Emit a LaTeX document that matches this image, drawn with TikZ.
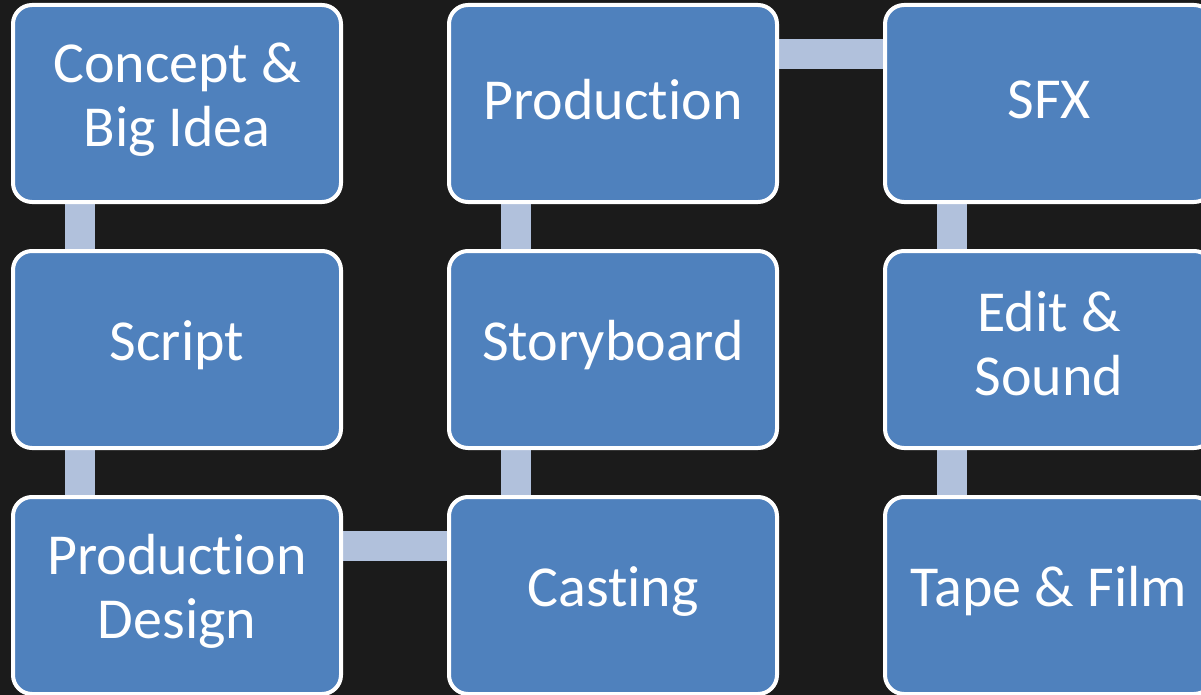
\documentclass[tikz,border=0pt]{standalone}
\usepackage{fontspec}
\setmainfont{Carlito}[Ligatures=NoCommon]
\usetikzlibrary{calc}
\pgfdeclarelayer{bg}
\pgfsetlayers{bg,main}
\definecolor{backdrop}{HTML}{1B1B1B}
\definecolor{boxblue}{HTML}{4F81BD}
\definecolor{linkblue}{HTML}{B1C1DC}

\begin{document}
\begin{tikzpicture}[x=1pt,y=1pt,
    stage/.style={draw=white, line width=4pt, fill=boxblue, rounded corners=19pt,
                  minimum width=328pt, minimum height=197pt, inner sep=0pt},
    caption/.style={text=white, align=center, inner sep=0pt, yshift=4pt,
                  font=\fontsize{58}{64}\selectfont},
    link/.style={draw=linkblue, line width=30pt}]
	\useasboundingbox (0,0) rectangle (1201,-695);
	\clip (0,0) rectangle (1201,-695);

	% column 1
	\node[stage, label={[caption]center:{Concept \&\\Big Idea}}] (concept) at (177,-103.5) {};
	\node[stage, label={[caption]center:{Script}}] (script) at (177,-349.5) {};
	\node[stage, label={[caption]center:{Production\\Design}}] (design) at (177,-595.5) {};
	% column 2
	\node[stage, label={[caption]center:{Production}}] (production) at (613,-103.5) {};
	\node[stage, label={[caption]center:{Storyboard}}] (storyboard) at (613,-349.5) {};
	\node[stage, label={[caption]center:{Casting}}] (casting) at (613,-595.5) {};
	% column 3
	\node[stage, label={[caption]center:{SFX}}] (sfx) at (1049,-103.5) {};
	\node[stage, label={[caption, yshift=2pt]center:{Edit \&\\Sound}}] (edit) at (1049,-349.5) {};
	\node[stage, label={[caption]center:{Tape \& Film}}] (tape) at (1049,-595.5) {};

	\begin{pgfonlayer}{bg}
		\fill[backdrop] (0,0) rectangle (1201,-695);
		\draw[link] ([xshift=69pt]concept.south west) -- ([xshift=69pt]script.north west);
		\draw[link] ([xshift=69pt]script.south west) -- ([xshift=69pt]design.north west);
		\draw[link] ([yshift=-51pt]design.north east) -- ([yshift=-51pt]casting.north west);
		\draw[link] ([xshift=69pt]casting.north west) -- ([xshift=69pt]storyboard.south west);
		\draw[link] ([xshift=69pt]storyboard.north west) -- ([xshift=69pt]production.south west);
		\draw[link] ([yshift=-51pt]production.north east) -- ([yshift=-51pt]sfx.north west);
		\draw[link] ([xshift=69pt]sfx.south west) -- ([xshift=69pt]edit.north west);
		\draw[link] ([xshift=69pt]edit.south west) -- ([xshift=69pt]tape.north west);
	\end{pgfonlayer}
\end{tikzpicture}
\end{document}
